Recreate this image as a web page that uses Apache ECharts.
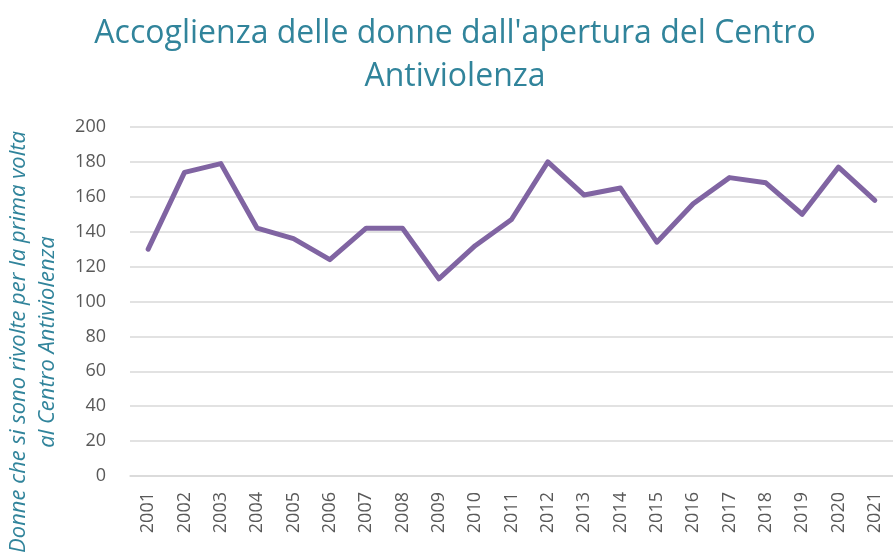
<!DOCTYPE html>
<html>
<head>
<meta charset="utf-8">
<script src="https://cdn.jsdelivr.net/npm/echarts@6/dist/echarts.min.js"></script>
<style>
  html, body { margin: 0; padding: 0; background: #fff; }
  #chart { width: 893px; height: 553px; }
</style>
</head>
<body>
<div id="chart"></div>
<script>
// dati
const years = ['2001', '2002', '2003', '2004', '2005', '2006', '2007', '2008', '2009', '2010', '2011',
    '2012', '2013', '2014', '2015', '2016', '2017', '2018', '2019', '2020', '2021'];
const donne = [130, 174, 179, 142, 136, 124, 142, 142, 113, 132, 147,
    180, 161, 165, 134, 156, 171, 168, 150, 177, 158];
const yTicks = [0, 20, 40, 60, 80, 100, 120, 140, 160, 180, 200];

const titleText = "Accoglienza delle donne dall'apertura del Centro\nAntiviolenza";
const yName = 'Donne che si sono rivolte per la prima volta\nal Centro Antiviolenza';

const chart = echarts.init(document.getElementById('chart'));

const option = {
    backgroundColor: '#fff',
    animation: false,
    title: {
        text: titleText,
        left: 450,
        textAlign: 'center',
        top: 7,
        textStyle: {
            color: '#31849B',
            fontFamily: 'Open Sans',
            fontWeight: 'normal',
            fontSize: 32,
            lineHeight: 43
        }
    },
    // titolo asse Y spostato un po' in basso come nell'originale
    graphic: [{
        type: 'text',
        x: 33,
        y: 342,
        rotation: Math.PI / 2,
        style: {
            text: yName,
            fill: '#31849B',
            fontStyle: 'italic',
            fontFamily: 'Open Sans',
            fontSize: 22,
            lineHeight: 29,
            align: 'center',
            verticalAlign: 'middle'
        }
    }],
    grid: {
        left: 130,
        top: 127,
        width: 769,
        height: 349
    },
    xAxis: {
        type: 'category',
        data: years,
        boundaryGap: true,
        axisLine: { lineStyle: { color: '#d9d9d9', width: 1.5 } },
        axisTick: { show: false },
        axisLabel: {
            rotate: 90,
            color: '#595959',
            fontFamily: 'Open Sans',
            fontSize: 18,
            margin: 16,
            interval: 0
        }
    },
    yAxis: {
        type: 'value',
        min: yTicks[0],
        max: yTicks[yTicks.length - 1],
        interval: 20,
        axisLine: { show: false },
        axisTick: { show: false },
        axisLabel: {
            color: '#595959',
            fontFamily: 'Open Sans',
            fontSize: 18,
            margin: 24
        },
        splitLine: { lineStyle: { color: '#d9d9d9', width: 1.5 } }
    },
    series: [{
        type: 'line',
        data: donne,
        symbol: 'none',
        lineStyle: { color: '#8064A2', width: 5, join: 'round', cap: 'round' }
    }]
};

chart.setOption(option);
</script>
</body>
</html>
